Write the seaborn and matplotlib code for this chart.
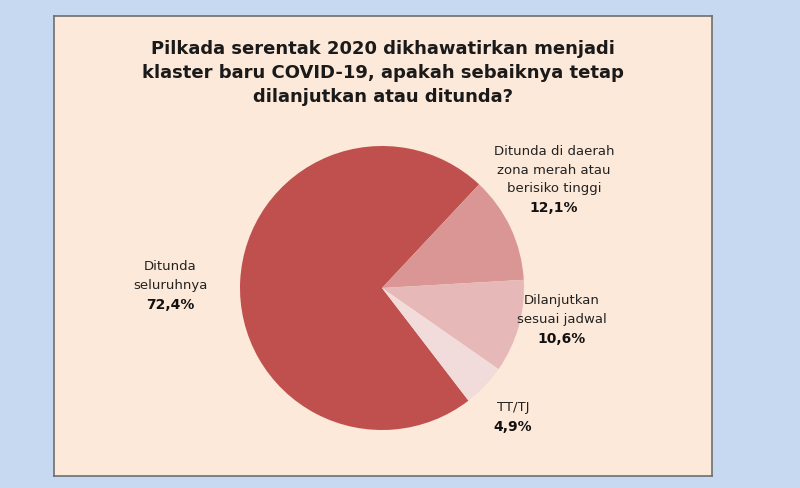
import matplotlib
matplotlib.use("Agg")
import matplotlib.pyplot as plt
import seaborn as sns

# data
categories = ["Ditunda\nseluruhnya", "Ditunda di daerah\nzona merah atau\nberisiko tinggi",
              "Dilanjutkan\nsesuai jadwal", "TT/TJ"]
values = [72.4, 12.1, 10.6, 4.9]
value_labels = ["72,4%", "12,1%", "10,6%", "4,9%"]
colors = ["#c0504d", "#d99694", "#e6b9b8", "#f2dcdb"]

title = ("Pilkada serentak 2020 dikhawatirkan menjadi\n"
         "klaster baru COVID-19, apakah sebaiknya tetap\n"
         "dilanjutkan atau ditunda?")

sns.set_theme(style="white")
plt.rcParams['font.family'] = ['DejaVu Sans']

W, H = 800, 489
fig = plt.figure(figsize=(8, 4.89), dpi=100, facecolor="#c6d9f1")

# peach panel with a thin border
bg = fig.add_axes([54 / W, 1 - 477 / H, (712 - 54) / W, (477 - 17) / H])
bg.set_facecolor("#fde9d9")
bg.set_xticks([])
bg.set_yticks([])
for s in bg.spines.values():
    s.set_color("#6e6e6e")
    s.set_linewidth(1.2)

fig.text(383 / W, 1 - 73 / H, title, ha="center", va="center", fontsize=13,
         fontweight="bold", color="#1a1a1a", linespacing=1.45)

cx, cy, r = 382, 289, 142
ax = fig.add_axes([(cx - r) / W, (H - cy - r) / H, 2 * r / W, 2 * r / H])
ax.pie(values, colors=colors, startangle=-52.5, counterclock=False,
       wedgeprops=dict(linewidth=0))
ax.set_xlim(-1, 1)
ax.set_ylim(-1, 1)
ax.set_aspect("equal")
ax.axis("off")


def px(x, y):
    return (x - cx) / r, (cy - y) / r


# label anchor positions (pixel space of the reference)
label_pos = [(170, 276), (554, 170), (562, 310), (513, 408)]
for cat, val, (lx, ly) in zip(categories, value_labels, label_pos):
    x, y = px(lx, ly)
    ax.text(x, y, cat, ha="center", va="center", fontsize=9.5, color="#222222",
            linespacing=1.55, clip_on=False)
    n = cat.count("\n") + 1
    vy = ly + (n + 1) * 19 / 2 + 0.5
    x2, y2 = px(lx, vy)
    ax.text(x2, y2, val, ha="center", va="center", fontsize=10, fontweight="bold",
            color="#111111", clip_on=False)

fig.savefig("out.png", dpi=100, facecolor=fig.get_facecolor())
